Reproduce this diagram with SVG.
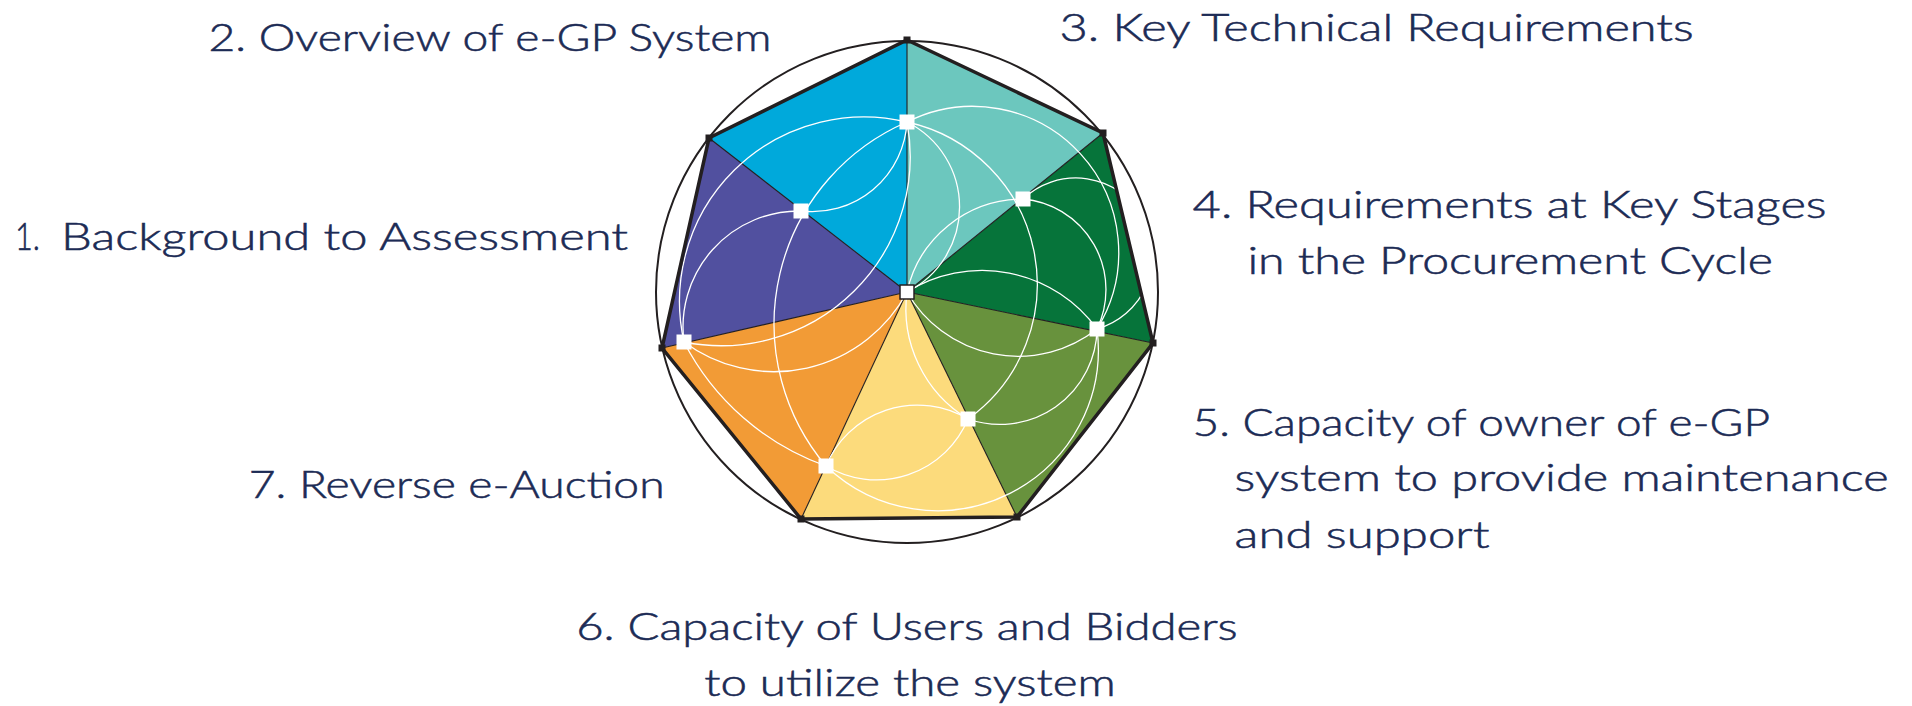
<svg xmlns="http://www.w3.org/2000/svg" width="1912" height="706" viewBox="0 0 1912 706">
<defs>
<style>
.lbl{font-family:Lato,"Open Sans","Liberation Sans",sans-serif;font-weight:300;font-size:38px;fill:#1c2b55;stroke:#1c2b55;stroke-width:0.55}
.wc{fill:none;stroke:#ffffff;stroke-width:1.3}
.rad{stroke:#231f20;stroke-width:1.1}
.vx{fill:#231f20}
.pt{fill:#ffffff}
</style>
<clipPath id="hep"><polygon points="907,40 1103,133 1153,343 1017,517 801,519 662,348 709,138"/></clipPath>
</defs>
<rect width="1912" height="706" fill="#ffffff"/>
<circle id="ring" cx="907" cy="292" r="251" fill="none" stroke="#231f20" stroke-width="2"/>
<g id="seg2"><polygon points="907,292 907,40 709,138" fill="#00a9db"/></g>
<g id="seg1"><polygon points="907,292 709,138 662,348" fill="#51509f"/></g>
<g id="seg7"><polygon points="907,292 662,348 801,519" fill="#f29b36"/></g>
<g id="seg6"><polygon points="907,292 801,519 1017,517" fill="#fcdb7c"/></g>
<g id="seg5"><polygon points="907,292 1017,517 1153,343" fill="#68923d"/></g>
<g id="seg4"><polygon points="907,292 1153,343 1103,133" fill="#06743a"/></g>
<g id="seg3"><polygon points="907,292 1103,133 907,40" fill="#6cc7be"/></g>
<g id="radials">
<line class="rad" x1="907" y1="292" x2="907" y2="40"/>
<line class="rad" x1="907" y1="292" x2="1103" y2="133"/>
<line class="rad" x1="907" y1="292" x2="1153" y2="343"/>
<line class="rad" x1="907" y1="292" x2="1017" y2="517"/>
<line class="rad" x1="907" y1="292" x2="801" y2="519"/>
<line class="rad" x1="907" y1="292" x2="662" y2="348"/>
<line class="rad" x1="907" y1="292" x2="709" y2="138"/>
</g>
<g id="connectors" clip-path="url(#hep)">
<path class="wc" d="M907,122 A184.5,184.5 0 0 0 684,342"/>
<path class="wc" d="M684,342 A189,189 0 0 0 907,122"/>
<path class="wc" d="M907,122 A220,220 0 0 0 826,466"/>
<path class="wc" d="M801,211 A95,95 0 0 0 907,122"/>
<path class="wc" d="M801,211 A116,116 0 0 0 684,342"/>
<path class="wc" d="M907,122 A146,146 0 0 1 1097,329"/>
<path class="wc" d="M907,122 A166,166 0 0 1 968,419"/>
<path class="wc" d="M907,122 A95,95 0 0 1 907,292"/>
<path class="wc" d="M1023,199 A119,119 0 0 0 907,292"/>
<path class="wc" d="M1023,199 A91,91 0 0 1 1097,329"/>
<path class="wc" d="M1023,199 A77,77 0 1 1 1097,329"/>
<path class="wc" d="M907,292 A142,142 0 0 1 1097,329"/>
<path class="wc" d="M907,292 A128,128 0 0 0 1097,329"/>
<path class="wc" d="M1097,329 A161,161 0 0 1 826,466"/>
<path class="wc" d="M826,466 A99,99 0 0 1 968,419"/>
<path class="wc" d="M826,466 A99,99 0 0 0 968,419"/>
<path class="wc" d="M968,419 A97,97 0 0 0 1097,329"/>
<path class="wc" d="M907,292 A129,129 0 0 0 968,419"/>
<path class="wc" d="M684,342 A151,151 0 0 0 907,292"/>
<path class="wc" d="M826,466 A256,256 0 0 1 684,342"/>
</g>
<polygon id="outline" points="907,40 1103,133 1153,343 1017,517 801,519 662,348 709,138" fill="none" stroke="#231f20" stroke-width="3.5" stroke-linejoin="miter"/>
<g id="vertices">
<rect class="vx" x="903.5" y="36.5" width="7" height="7"/>
<rect class="vx" x="1099.5" y="129.5" width="7" height="7"/>
<rect class="vx" x="1149.5" y="339.5" width="7" height="7"/>
<rect class="vx" x="1013.5" y="513.5" width="7" height="7"/>
<rect class="vx" x="797.5" y="515.5" width="7" height="7"/>
<rect class="vx" x="658.5" y="344.5" width="7" height="7"/>
<rect class="vx" x="705.5" y="134.5" width="7" height="7"/>
</g>
<g id="points">
<rect class="pt" x="899.5" y="114.5" width="15" height="15"/>
<rect class="pt" x="1015.5" y="191.5" width="15" height="15"/>
<rect class="pt" x="1089.5" y="321.5" width="15" height="15"/>
<rect class="pt" x="960.5" y="411.5" width="15" height="15"/>
<rect class="pt" x="818.5" y="458.5" width="15" height="15"/>
<rect class="pt" x="676.5" y="334.5" width="15" height="15"/>
<rect class="pt" x="793.5" y="203.5" width="15" height="15"/>
<rect x="900" y="285" width="14" height="14" fill="#ffffff" stroke="#231f20" stroke-width="1.5"/>
</g>
<g id="label1"><text class="lbl" x="15" y="250" textLength="25" lengthAdjust="spacingAndGlyphs">1.</text><text class="lbl" x="61" y="250" textLength="567" lengthAdjust="spacingAndGlyphs">Background to Assessment</text></g>
<g id="label2"><text class="lbl" x="208.5" y="50.5" textLength="563" lengthAdjust="spacingAndGlyphs">2. Overview of e-GP System</text></g>
<g id="label3"><text class="lbl" x="1059.6" y="40.7" textLength="634" lengthAdjust="spacingAndGlyphs">3. Key Technical Requirements</text></g>
<g id="label4"><text class="lbl" x="1192.6" y="218.3" textLength="634" lengthAdjust="spacingAndGlyphs">4. Requirements at Key Stages</text><text class="lbl" x="1247.4" y="274" textLength="525.6" lengthAdjust="spacingAndGlyphs">in the Procurement Cycle</text></g>
<g id="label5"><text class="lbl" x="1192.6" y="436.3" textLength="577.4" lengthAdjust="spacingAndGlyphs">5. Capacity of owner of e-GP</text><text class="lbl" x="1234.6" y="491.3" textLength="654.2" lengthAdjust="spacingAndGlyphs">system to provide maintenance</text><text class="lbl" x="1234.6" y="548" textLength="255" lengthAdjust="spacingAndGlyphs">and support</text></g>
<g id="label6"><text class="lbl" x="576.2" y="640" textLength="661.5" lengthAdjust="spacingAndGlyphs">6. Capacity of Users and Bidders</text><text class="lbl" x="704.2" y="696.3" textLength="411.5" lengthAdjust="spacingAndGlyphs">to utilize the system</text></g>
<g id="label7"><text class="lbl" x="248.8" y="498" textLength="415.8" lengthAdjust="spacingAndGlyphs">7. Reverse e-Auction</text></g>
</svg>
